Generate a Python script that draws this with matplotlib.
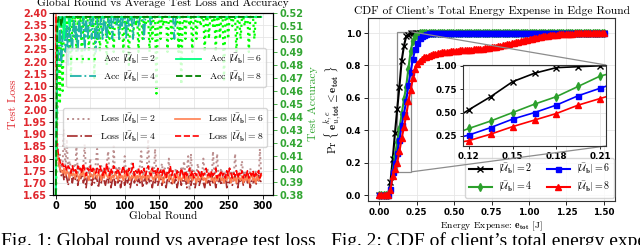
"""Two panels: test loss / accuracy vs global round, and CDF of client energy expense."""

import matplotlib
import numpy as np

matplotlib.use("Agg")
import matplotlib.pyplot as plt
from mpl_toolkits.axes_grid1.inset_locator import mark_inset

plt.rcParams["mathtext.fontset"] = "cm"
plt.rcParams["axes.unicode_minus"] = False

# ---------------- data: left panel (sampled every 2nd global round) ----------------
rounds = np.arange(0, 300, 2)
group_sizes = [2, 4, 6, 8]

loss_u2 = [
    2.48, 1.88, 1.80, 1.82, 1.76, 1.78, 1.92, 1.75, 1.88, 1.74, 1.79, 1.76, 1.73, 1.78, 1.74,
    1.85, 1.74, 1.77, 1.72, 1.75, 1.78, 1.86, 1.73, 1.76, 1.74, 1.80, 1.72, 1.76, 1.73, 1.78,
    1.84, 1.74, 1.72, 1.77, 1.73, 1.76, 1.74, 1.78, 1.83, 1.73, 1.75, 1.72, 1.85, 1.74, 1.76,
    1.73, 1.77, 1.72, 1.75, 1.74, 1.81, 1.73, 1.76, 1.71, 1.75, 1.78, 1.73, 1.75, 1.72, 1.76,
    1.74, 1.77, 1.83, 1.73, 1.75, 1.72, 1.76, 1.88, 1.74, 1.73, 1.77, 1.72, 1.84, 1.74, 1.76,
    1.73, 1.75, 1.78, 1.72, 1.76, 1.74, 1.73, 1.80, 1.72, 1.75, 1.74, 1.70, 1.76, 1.73, 1.75,
    1.72, 1.76, 1.74, 1.79, 1.73, 1.75, 1.81, 1.67, 1.82, 1.73, 1.75, 1.72, 1.74, 1.78, 1.73,
    1.75, 1.72, 1.80, 1.74, 1.73, 1.76, 1.72, 1.74, 1.71, 1.83, 1.73, 1.75, 1.82, 1.72, 1.74,
    1.76, 1.73, 1.71, 1.75, 1.74, 1.72, 1.76, 1.73, 1.75, 1.72, 1.82, 1.74, 1.73, 1.71, 1.75,
    1.79, 1.73, 1.75, 1.72, 1.74, 1.71, 1.76, 1.73, 1.74, 1.72, 1.75, 1.73, 1.70, 1.84, 1.73,
]
loss_u4 = [
    2.44, 1.84, 1.78, 1.76, 1.73, 1.75, 1.71, 1.74, 1.72, 1.69, 1.73, 1.75, 1.70, 1.73, 1.71,
    1.74, 1.69, 1.73, 1.71, 1.75, 1.70, 1.72, 1.68, 1.73, 1.71, 1.74, 1.69, 1.72, 1.70, 1.73,
    1.71, 1.68, 1.73, 1.70, 1.74, 1.71, 1.69, 1.72, 1.70, 1.73, 1.68, 1.71, 1.73, 1.69, 1.72,
    1.70, 1.73, 1.68, 1.71, 1.72, 1.69, 1.73, 1.70, 1.72, 1.68, 1.71, 1.73, 1.70, 1.72, 1.69,
    1.72, 1.70, 1.73, 1.68, 1.71, 1.72, 1.69, 1.73, 1.70, 1.71, 1.68, 1.72, 1.70, 1.73, 1.69,
    1.71, 1.73, 1.69, 1.72, 1.70, 1.68, 1.72, 1.70, 1.73, 1.69, 1.71, 1.70, 1.72, 1.68, 1.71,
    1.73, 1.69, 1.71, 1.70, 1.72, 1.68, 1.71, 1.73, 1.69, 1.72, 1.70, 1.68, 1.71, 1.72, 1.69,
    1.71, 1.73, 1.70, 1.68, 1.72, 1.70, 1.71, 1.69, 1.73, 1.70, 1.72, 1.68, 1.71, 1.70, 1.72,
    1.69, 1.72, 1.70, 1.73, 1.68, 1.71, 1.70, 1.72, 1.69, 1.71, 1.73, 1.70, 1.68, 1.72, 1.70,
    1.72, 1.69, 1.71, 1.73, 1.70, 1.72, 1.68, 1.71, 1.70, 1.72, 1.69, 1.71, 1.73, 1.70, 1.71,
]
loss_u6 = [
    2.42, 1.83, 1.79, 1.76, 1.75, 1.74, 1.76, 1.73, 1.75, 1.74, 1.72, 1.75, 1.73, 1.74, 1.72,
    1.75, 1.73, 1.71, 1.74, 1.73, 1.75, 1.72, 1.74, 1.73, 1.71, 1.74, 1.73, 1.72, 1.75, 1.73,
    1.72, 1.74, 1.73, 1.71, 1.74, 1.72, 1.75, 1.73, 1.72, 1.74, 1.71, 1.73, 1.72, 1.74, 1.73,
    1.71, 1.74, 1.72, 1.73, 1.71, 1.74, 1.72, 1.75, 1.73, 1.71, 1.73, 1.72, 1.74, 1.71, 1.73,
    1.72, 1.74, 1.71, 1.73, 1.72, 1.74, 1.71, 1.73, 1.72, 1.75, 1.72, 1.71, 1.73, 1.72, 1.74,
    1.71, 1.73, 1.72, 1.70, 1.73, 1.72, 1.74, 1.71, 1.73, 1.72, 1.70, 1.73, 1.72, 1.74, 1.71,
    1.73, 1.71, 1.72, 1.74, 1.71, 1.73, 1.70, 1.72, 1.74, 1.71, 1.73, 1.72, 1.70, 1.73, 1.71,
    1.72, 1.74, 1.71, 1.72, 1.70, 1.73, 1.72, 1.74, 1.71, 1.72, 1.70, 1.73, 1.71, 1.72, 1.74,
    1.71, 1.72, 1.70, 1.73, 1.71, 1.74, 1.72, 1.70, 1.73, 1.71, 1.72, 1.70, 1.73, 1.72, 1.71,
    1.73, 1.70, 1.72, 1.71, 1.73, 1.70, 1.72, 1.74, 1.71, 1.72, 1.70, 1.73, 1.71, 1.72, 1.73,
]
loss_u8 = [
    2.46, 1.86, 1.81, 1.79, 1.77, 1.78, 1.76, 1.77, 1.75, 1.77, 1.76, 1.74, 1.77, 1.75, 1.76,
    1.74, 1.77, 1.75, 1.76, 1.74, 1.78, 1.75, 1.73, 1.76, 1.75, 1.77, 1.74, 1.76, 1.75, 1.74,
    1.76, 1.74, 1.77, 1.75, 1.73, 1.76, 1.74, 1.78, 1.75, 1.73, 1.76, 1.74, 1.77, 1.75, 1.74,
    1.76, 1.74, 1.73, 1.75, 1.77, 1.74, 1.75, 1.73, 1.76, 1.74, 1.75, 1.78, 1.73, 1.75, 1.74,
    1.76, 1.73, 1.75, 1.74, 1.76, 1.73, 1.75, 1.77, 1.74, 1.73, 1.76, 1.74, 1.75, 1.73, 1.76,
    1.74, 1.75, 1.73, 1.76, 1.74, 1.72, 1.75, 1.74, 1.77, 1.73, 1.75, 1.74, 1.72, 1.75, 1.74,
    1.73, 1.76, 1.74, 1.72, 1.75, 1.73, 1.74, 1.76, 1.73, 1.75, 1.72, 1.74, 1.73, 1.75, 1.74,
    1.72, 1.75, 1.73, 1.74, 1.76, 1.73, 1.74, 1.72, 1.75, 1.73, 1.74, 1.76, 1.72, 1.74, 1.73,
    1.75, 1.73, 1.74, 1.72, 1.75, 1.73, 1.76, 1.74, 1.72, 1.74, 1.73, 1.75, 1.72, 1.74, 1.73,
    1.75, 1.72, 1.74, 1.73, 1.75, 1.72, 1.74, 1.73, 1.75, 1.72, 1.74, 1.73, 1.75, 1.72, 1.74,
]

acc_u2 = [
    0.370, 0.440, 0.500, 0.450, 0.517, 0.460, 0.517, 0.500, 0.517, 0.490, 0.517, 0.470, 0.517, 0.500, 0.517,
    0.490, 0.517, 0.510, 0.517, 0.480, 0.517, 0.500, 0.517, 0.517, 0.490, 0.517, 0.510, 0.517, 0.470, 0.517,
    0.500, 0.517, 0.490, 0.517, 0.517, 0.510, 0.517, 0.480, 0.517, 0.500, 0.517, 0.517, 0.490, 0.517, 0.510,
    0.517, 0.500, 0.517, 0.517, 0.490, 0.517, 0.510, 0.517, 0.480, 0.517, 0.517, 0.500, 0.517, 0.510, 0.517,
    0.490, 0.517, 0.517, 0.500, 0.517, 0.510, 0.517, 0.517, 0.490, 0.517, 0.500, 0.517, 0.517, 0.458, 0.517,
    0.517, 0.500, 0.517, 0.510, 0.517, 0.517, 0.490, 0.517, 0.517, 0.500, 0.517, 0.517, 0.510, 0.517, 0.490,
    0.517, 0.465, 0.517, 0.517, 0.500, 0.517, 0.517, 0.510, 0.517, 0.490, 0.517, 0.517, 0.500, 0.517, 0.517,
    0.510, 0.517, 0.517, 0.490, 0.517, 0.517, 0.500, 0.517, 0.517, 0.510, 0.517, 0.490, 0.517, 0.517, 0.500,
    0.517, 0.517, 0.467, 0.517, 0.517, 0.500, 0.517, 0.517, 0.510, 0.517, 0.517, 0.490, 0.517, 0.517, 0.500,
    0.517, 0.517, 0.510, 0.517, 0.517, 0.490, 0.517, 0.517, 0.517, 0.500, 0.517, 0.517, 0.517, 0.517, 0.517,
]
acc_u4 = [
    0.380, 0.470, 0.490, 0.517, 0.480, 0.500, 0.517, 0.490, 0.510, 0.480, 0.517, 0.500, 0.490, 0.517, 0.500,
    0.510, 0.490, 0.517, 0.500, 0.510, 0.517, 0.490, 0.517, 0.500, 0.510, 0.517, 0.500, 0.517, 0.510, 0.490,
    0.517, 0.500, 0.510, 0.517, 0.500, 0.517, 0.510, 0.500, 0.517, 0.510, 0.517, 0.500, 0.517, 0.517, 0.510,
    0.517, 0.500, 0.517, 0.510, 0.517, 0.517, 0.500, 0.517, 0.510, 0.517, 0.517, 0.500, 0.517, 0.517, 0.517,
    0.510, 0.517, 0.517, 0.517, 0.500, 0.517, 0.517, 0.517, 0.517, 0.510, 0.517, 0.517, 0.517, 0.517, 0.517,
    0.517, 0.517, 0.517, 0.517, 0.517, 0.517, 0.517, 0.517, 0.517, 0.517, 0.517, 0.500, 0.517, 0.517, 0.517,
    0.517, 0.517, 0.517, 0.517, 0.517, 0.517, 0.517, 0.517, 0.517, 0.517, 0.517, 0.517, 0.517, 0.517, 0.517,
    0.517, 0.517, 0.517, 0.517, 0.517, 0.517, 0.517, 0.517, 0.517, 0.517, 0.517, 0.517, 0.517, 0.517, 0.517,
    0.517, 0.517, 0.517, 0.517, 0.517, 0.517, 0.517, 0.517, 0.517, 0.517, 0.517, 0.517, 0.517, 0.517, 0.517,
    0.517, 0.517, 0.517, 0.517, 0.517, 0.517, 0.517, 0.517, 0.517, 0.517, 0.517, 0.517, 0.517, 0.517, 0.517,
]
acc_u6 = [
    0.380, 0.500, 0.517, 0.510, 0.517, 0.517, 0.500, 0.517, 0.517, 0.517, 0.510, 0.517, 0.517, 0.517, 0.517,
    0.517, 0.517, 0.517, 0.517, 0.517, 0.517, 0.517, 0.517, 0.517, 0.517, 0.517, 0.517, 0.517, 0.517, 0.517,
    0.517, 0.517, 0.517, 0.517, 0.517, 0.517, 0.517, 0.517, 0.517, 0.517, 0.517, 0.517, 0.517, 0.517, 0.517,
    0.517, 0.517, 0.517, 0.517, 0.517, 0.517, 0.517, 0.517, 0.517, 0.517, 0.517, 0.517, 0.517, 0.517, 0.517,
    0.517, 0.517, 0.517, 0.517, 0.517, 0.517, 0.517, 0.517, 0.517, 0.517, 0.517, 0.517, 0.517, 0.517, 0.517,
    0.517, 0.517, 0.517, 0.517, 0.517, 0.517, 0.517, 0.517, 0.517, 0.517, 0.517, 0.517, 0.517, 0.517, 0.517,
    0.517, 0.517, 0.517, 0.517, 0.517, 0.517, 0.517, 0.517, 0.517, 0.517, 0.517, 0.517, 0.517, 0.517, 0.517,
    0.517, 0.517, 0.517, 0.517, 0.517, 0.517, 0.517, 0.517, 0.517, 0.517, 0.517, 0.517, 0.517, 0.517, 0.517,
    0.517, 0.517, 0.517, 0.517, 0.517, 0.517, 0.517, 0.517, 0.517, 0.517, 0.517, 0.517, 0.517, 0.517, 0.517,
    0.517, 0.517, 0.517, 0.517, 0.517, 0.517, 0.517, 0.517, 0.517, 0.517, 0.517, 0.517, 0.517, 0.517, 0.517,
]
acc_u8 = [
    0.380, 0.510, 0.517, 0.517, 0.510, 0.517, 0.517, 0.517, 0.517, 0.517, 0.517, 0.517, 0.517, 0.517, 0.517,
    0.517, 0.517, 0.517, 0.517, 0.517, 0.517, 0.517, 0.517, 0.517, 0.517, 0.517, 0.517, 0.517, 0.517, 0.517,
    0.517, 0.517, 0.517, 0.517, 0.517, 0.517, 0.517, 0.517, 0.517, 0.517, 0.517, 0.517, 0.517, 0.517, 0.517,
    0.517, 0.517, 0.517, 0.517, 0.517, 0.517, 0.517, 0.517, 0.517, 0.517, 0.517, 0.517, 0.517, 0.517, 0.517,
    0.517, 0.517, 0.517, 0.517, 0.517, 0.517, 0.517, 0.517, 0.517, 0.517, 0.517, 0.517, 0.517, 0.517, 0.517,
    0.517, 0.517, 0.517, 0.517, 0.517, 0.517, 0.517, 0.517, 0.517, 0.517, 0.517, 0.517, 0.517, 0.517, 0.517,
    0.517, 0.517, 0.517, 0.517, 0.517, 0.517, 0.517, 0.517, 0.517, 0.517, 0.517, 0.517, 0.517, 0.517, 0.517,
    0.517, 0.517, 0.517, 0.517, 0.517, 0.517, 0.517, 0.517, 0.517, 0.517, 0.517, 0.517, 0.517, 0.517, 0.517,
    0.517, 0.517, 0.517, 0.517, 0.517, 0.517, 0.517, 0.517, 0.517, 0.517, 0.517, 0.517, 0.517, 0.517, 0.517,
    0.517, 0.517, 0.517, 0.517, 0.517, 0.517, 0.517, 0.517, 0.517, 0.517, 0.517, 0.517, 0.517, 0.517, 0.517,
]

loss_ticks = [1.65, 1.70, 1.75, 1.80, 1.85, 1.90, 1.95, 2.00, 2.05, 2.10, 2.15, 2.20, 2.25, 2.30, 2.35, 2.40]
acc_ticks = [0.38, 0.39, 0.40, 0.41, 0.42, 0.43, 0.44, 0.45, 0.46, 0.47, 0.48, 0.49, 0.50, 0.51, 0.52]
round_ticks = [0, 50, 100, 150, 200, 250, 300]

# ---------------- data: right panel (CDF, energy grid step 0.015 J) ----------------
energy = np.round(np.arange(0, 101) * 0.015, 3)
cdf_u2 = [
    0, 0, 0, 0, 0, 0.08, 0.22, 0.38, 0.53, 0.67,
    0.83, 0.92, 0.98, 0.99, 1.0, 1.0, 1.0, 1.0, 1.0, 1.0,
    1.0, 1.0, 1.0, 1.0, 1.0, 1.0, 1.0, 1.0, 1.0, 1.0,
    1.0, 1.0, 1.0, 1.0, 1.0, 1.0, 1.0, 1.0, 1.0, 1.0,
    1.0, 1.0, 1.0, 1.0, 1.0, 1.0, 1.0, 1.0, 1.0, 1.0,
    1.0, 1.0, 1.0, 1.0, 1.0, 1.0, 1.0, 1.0, 1.0, 1.0,
    1.0, 1.0, 1.0, 1.0, 1.0, 1.0, 1.0, 1.0, 1.0, 1.0,
    1.0, 1.0, 1.0, 1.0, 1.0, 1.0, 1.0, 1.0, 1.0, 1.0,
    1.0, 1.0, 1.0, 1.0, 1.0, 1.0, 1.0, 1.0, 1.0, 1.0,
    1.0, 1.0, 1.0, 1.0, 1.0, 1.0, 1.0, 1.0, 1.0, 1.0,
    1.0,
]
cdf_u4 = [
    0, 0, 0, 0, 0, 0.03, 0.15, 0.24, 0.33, 0.41,
    0.50, 0.59, 0.67, 0.78, 0.89, 0.95, 0.98, 0.99, 1.0, 1.0,
    1.0, 1.0, 1.0, 1.0, 1.0, 1.0, 1.0, 1.0, 1.0, 1.0,
    1.0, 1.0, 1.0, 1.0, 1.0, 1.0, 1.0, 1.0, 1.0, 1.0,
    1.0, 1.0, 1.0, 1.0, 1.0, 1.0, 1.0, 1.0, 1.0, 1.0,
    1.0, 1.0, 1.0, 1.0, 1.0, 1.0, 1.0, 1.0, 1.0, 1.0,
    1.0, 1.0, 1.0, 1.0, 1.0, 1.0, 1.0, 1.0, 1.0, 1.0,
    1.0, 1.0, 1.0, 1.0, 1.0, 1.0, 1.0, 1.0, 1.0, 1.0,
    1.0, 1.0, 1.0, 1.0, 1.0, 1.0, 1.0, 1.0, 1.0, 1.0,
    1.0, 1.0, 1.0, 1.0, 1.0, 1.0, 1.0, 1.0, 1.0, 1.0,
    1.0,
]
cdf_u6 = [
    0, 0, 0, 0, 0, 0.04, 0.14, 0.20, 0.26, 0.34,
    0.43, 0.50, 0.58, 0.68, 0.76, 0.84, 0.90, 0.94, 0.97, 0.98,
    0.99, 0.995, 1.0, 1.0, 1.0, 1.0, 1.0, 1.0, 1.0, 1.0,
    1.0, 1.0, 1.0, 1.0, 1.0, 1.0, 1.0, 1.0, 1.0, 1.0,
    1.0, 1.0, 1.0, 1.0, 1.0, 1.0, 1.0, 1.0, 1.0, 1.0,
    1.0, 1.0, 1.0, 1.0, 1.0, 1.0, 1.0, 1.0, 1.0, 1.0,
    1.0, 1.0, 1.0, 1.0, 1.0, 1.0, 1.0, 1.0, 1.0, 1.0,
    1.0, 1.0, 1.0, 1.0, 1.0, 1.0, 1.0, 1.0, 1.0, 1.0,
    1.0, 1.0, 1.0, 1.0, 1.0, 1.0, 1.0, 1.0, 1.0, 1.0,
    1.0, 1.0, 1.0, 1.0, 1.0, 1.0, 1.0, 1.0, 1.0, 1.0,
    1.0,
]
cdf_u8 = [
    0, 0, 0, 0, 0, 0.03, 0.12, 0.16, 0.20, 0.27,
    0.35, 0.42, 0.49, 0.58, 0.65, 0.72, 0.78, 0.81, 0.83, 0.84,
    0.85, 0.855, 0.86, 0.865, 0.87, 0.872, 0.875, 0.877, 0.88, 0.882,
    0.884, 0.886, 0.888, 0.89, 0.891, 0.892, 0.893, 0.894, 0.895, 0.896,
    0.897, 0.898, 0.899, 0.90, 0.901, 0.902, 0.903, 0.905, 0.907, 0.909,
    0.911, 0.914, 0.917, 0.92, 0.923, 0.926, 0.929, 0.932, 0.935, 0.938,
    0.941, 0.944, 0.947, 0.95, 0.953, 0.956, 0.959, 0.962, 0.965, 0.968,
    0.971, 0.974, 0.977, 0.98, 0.982, 0.984, 0.986, 0.988, 0.99, 0.991,
    0.992, 0.993, 0.994, 0.995, 0.996, 0.997, 0.997, 0.998, 0.998, 0.999,
    0.999, 0.999, 0.999, 1.0, 1.0, 1.0, 1.0, 1.0, 1.0, 1.0,
    1.0,
]
energy_ticks = [0.00, 0.25, 0.50, 0.75, 1.00, 1.25, 1.50]
cdf_ticks = [0.0, 0.2, 0.4, 0.6, 0.8, 1.0]
zoom_x_ticks = [0.12, 0.15, 0.18, 0.21]
zoom_y_ticks = [0.25, 0.50, 0.75, 1.00]

# ---------------- styling ----------------
SERIF = "cmr10"
LOSS_RED = "#e0282e"
ACC_GREEN = "#33a633"
GRID = dict(color="#e6e6e6", lw=0.6)
TICKFONT = dict(family="DejaVu Sans", fontweight="bold", fontsize=7)
SMALLTICK = dict(family="DejaVu Sans", fontweight="bold", fontsize=6.3)


def group_label(prefix, n):
    return prefix + r"$|\bar{\mathcal{U}}_{\mathbf{b}}| = \mathbf{" + str(n) + "}$"


fig = plt.figure(figsize=(6.4, 2.45), dpi=100)

# ---------------- left panel ----------------
ax = fig.add_axes([53 / 640, 50 / 245, 220 / 640, 182 / 245])
axr = ax.twinx()

loss_style = [("rosybrown", ":", 1.4), ("#a52a2a", "-.", 1.2), ("coral", "-", 1.2), ("red", "--", 1.2)]
acc_style = [("lime", ":", 1.6), ("lightseagreen", "-.", 1.3), ("springgreen", "-", 1.3), ("green", "--", 1.3)]

loss_lines = []
for vals, (c, ls, lw), n in zip([loss_u2, loss_u4, loss_u6, loss_u8], loss_style, group_sizes):
    (ln,) = ax.plot(rounds, vals, color=c, ls=ls, lw=lw, label=group_label("Loss ", n))
    loss_lines.append(ln)
acc_lines = []
for vals, (c, ls, lw), n in zip([acc_u2, acc_u4, acc_u6, acc_u8], acc_style, group_sizes):
    (ln,) = axr.plot(rounds, vals, color=c, ls=ls, lw=lw, label=group_label("Acc ", n))
    acc_lines.append(ln)

ax.set_xlim(-4, 315)
ax.set_ylim(1.65, 2.40)
axr.set_ylim(0.38, 0.52)
ax.set_xticks(round_ticks, labels=[str(t) for t in round_ticks], **TICKFONT)
ax.set_yticks(loss_ticks, labels=[f"{t:.2f}" for t in loss_ticks], color=LOSS_RED, **TICKFONT)
axr.set_yticks(acc_ticks, labels=[f"{t:.2f}" for t in acc_ticks], color=ACC_GREEN, **TICKFONT)
ax.tick_params(length=3, width=0.6, pad=1.5)
axr.tick_params(length=3, width=0.6, pad=2, color=ACC_GREEN)
ax.grid(True, **GRID)
ax.set_axisbelow(True)
ax.set_xlabel("Global Round", family=SERIF, fontsize=8, labelpad=0)
ax.set_ylabel("Test Loss", family=SERIF, fontsize=8.5, color=LOSS_RED, labelpad=3)
axr.set_ylabel("Test Accuracy", family=SERIF, fontsize=8.5, color=ACC_GREEN, labelpad=3)
ax.set_title("Global Round vs Average Test Loss and Accuracy", family=SERIF, fontsize=8.2, pad=4.8)

leg_kw = dict(ncol=2, loc="center", handlelength=2.6, columnspacing=2.0,
              borderpad=0.4, labelspacing=0.3, prop={"family": SERIF, "size": 7})
leg_acc = axr.legend(handles=acc_lines, bbox_to_anchor=(166 / 640, 1 - 67.5 / 245),
                     bbox_transform=fig.transFigure, **leg_kw)
axr.add_artist(leg_acc)
axr.legend(handles=loss_lines, bbox_to_anchor=(165 / 640, 1 - 127.5 / 245),
           bbox_transform=fig.transFigure, **leg_kw)

# ---------------- right panel ----------------
cdf_style = [("black", "x", 4.0), ("tab:green", "d", 4.0), ("blue", "s", 3.6), ("red", "^", 4.0)]
cdfs = [cdf_u2, cdf_u4, cdf_u6, cdf_u8]

bx = fig.add_axes([368 / 640, 44 / 245, 247 / 640, 183 / 245])
for vals, (c, m, ms), n in zip(cdfs, cdf_style, group_sizes):
    bx.plot(energy, vals, color=c, marker=m, ms=ms, lw=1.5, mew=1.0, label=group_label("", n))
bx.set_xlim(-0.075, 1.575)
bx.set_ylim(-0.037, 1.093)
bx.set_xticks(energy_ticks, labels=[f"{t:.2f}" for t in energy_ticks], **SMALLTICK)
bx.set_yticks(cdf_ticks, labels=[f"{t:.1f}" for t in cdf_ticks], **SMALLTICK)
bx.tick_params(length=3, width=0.6, pad=2)
bx.grid(True, **GRID)
bx.set_axisbelow(True)
for sp in bx.spines.values():
    sp.set_color("#333333")
bx.set_xlabel(r"Energy Expense: $\mathbf{e}_{\mathbf{tot}}$ [J]", family=SERIF, fontsize=7, labelpad=2)
bx.set_ylabel(r"$\mathrm{Pr}\ \{\ \mathbf{e}_{u,\mathbf{tot}}^{k,e} \leq \mathbf{e}_{\mathbf{tot}}\ \}$",
              fontsize=8, labelpad=2)
bx.set_title("CDF of Client's Total Energy Expense in Edge Round", family=SERIF, fontsize=8.3, pad=3)
bx.legend(ncol=2, loc="lower right", bbox_to_anchor=(614 / 640, 47 / 245), bbox_transform=fig.transFigure,
          borderaxespad=0, fontsize=7.2, handlelength=2.3, columnspacing=1.4, labelspacing=0.3,
          borderpad=0.4, handletextpad=0.6)

# zoomed inset
ix = fig.add_axes([463 / 640, 99 / 245, 143 / 640, 81 / 245])
for vals, (c, m, ms), n in zip(cdfs, cdf_style, group_sizes):
    ix.plot(energy, vals, color=c, marker=m, ms=ms, lw=1.2, mew=1.0)
ix.set_xlim(0.116, 0.214)
ix.set_ylim(0.143, 1.008)
ix.set_xticks(zoom_x_ticks, labels=[f"{t:.2f}" for t in zoom_x_ticks], **SMALLTICK)
ix.set_yticks(zoom_y_ticks, labels=[f"{t:.2f}" for t in zoom_y_ticks], **SMALLTICK)
ix.tick_params(length=2.5, width=0.6, pad=2)
ix.grid(True, **GRID)
ix.set_axisbelow(True)
for sp in ix.spines.values():
    sp.set_color("#333333")
mark_inset(bx, ix, loc1=1, loc2=4, fc="none", ec="0.55", lw=0.9)

# captions (cut by the bottom edge, as in the source page)
fig.text(1 / 640, -1 / 245, "Fig. 1: Global round vs average test loss", family="Liberation Serif",
         fontsize=14, va="baseline", ha="left")
fig.text(331 / 640, -1 / 245, "Fig. 2: CDF of client\u2019s total energy expense", family="Liberation Serif",
         fontsize=14, va="baseline", ha="left")

fig.savefig("out.png", dpi=100)
plt.close(fig)
